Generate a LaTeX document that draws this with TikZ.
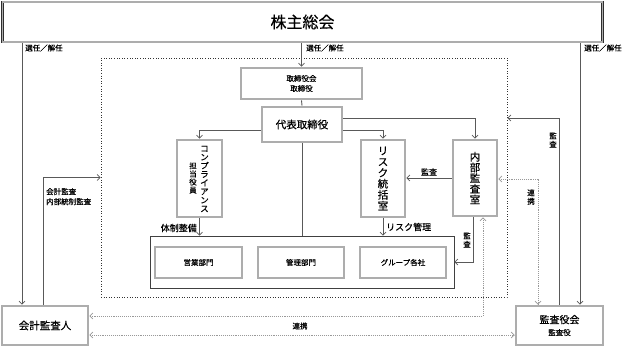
\documentclass[tikz,border=0pt]{standalone}
\usepackage{fontspec}
\setmainfont{Noto Sans CJK JP}[FakeBold=0.5]
\usetikzlibrary{arrows.meta,calc}
\begin{document}
\begin{tikzpicture}[x=1pt,y=-1pt,
  dbox/.style={draw=black!82, double=black!32, double distance=1.2pt, line width=0.7pt,
    fill=white, inner sep=0pt, outer sep=1.3pt},
  sbox/.style={draw=black!75, line width=0.9pt, inner sep=0pt, outer sep=0.45pt},
  tip/.tip={Straight Barb[length=3pt,width=6pt,line width=0.7pt]},
  conn/.style={draw=black!65, line width=0.9pt},
  arr/.style={conn, -tip},
  link/.style={draw=black!40, densely dotted, line width=0.9pt, tip-tip},
  lab/.style={inner sep=0pt, font=\fontsize{7.5}{8.5}\selectfont},
  vt/.style={inner sep=0pt, align=center}
]
\useasboundingbox (0,0) rectangle (622,347);
\fill[white] (0,0) rectangle (622,347);

% dotted frame
\node[draw=black!80, dotted, line width=0.6pt, minimum width=406pt, minimum height=239pt, inner sep=0pt] (frame) at (304,177.5) {};

% boxes
\node[dbox, minimum width=600pt, minimum height=40pt, font=\fontsize{16}{18}\selectfont] (sh) at (302.5,22) {株主総会};
\node[dbox, minimum width=121pt, minimum height=31pt, align=center, font=\fontsize{7.5}{10}\selectfont] (bd) at (301.5,83.5) {取締役会\\取締役};
\node[dbox, minimum width=80pt, minimum height=35pt, font=\fontsize{10.5}{12}\selectfont] (ceo) at (302,124.5) {代表取締役};
\node[dbox, minimum width=45pt, minimum height=77pt] (comp) at (199.5,178.5) {};
\node[vt, font=\fontsize{8.5}{8.6}\selectfont] (compa) at (204.5,179) {コ\\ン\\プ\\ラ\\イ\\ア\\ン\\ス};
\node[vt, font=\fontsize{7.5}{8.1}\selectfont] (compb) at (193,178) {担\\当\\役\\員};
\node[dbox, minimum width=44pt, minimum height=77pt, vt, font=\fontsize{10.5}{11}\selectfont] (risk) at (383,178.5) {リ\\ス\\ク\\統\\括\\室};
\node[dbox, minimum width=44pt, minimum height=76pt, vt, font=\fontsize{10.5}{10.7}\selectfont] (audit) at (475,178) {内\\部\\監\\査\\室};

\node[sbox, minimum width=304pt, minimum height=52pt] (cont) at (302,262) {};
\node[dbox, minimum width=87pt, minimum height=31pt, font=\fontsize{7.5}{9}\selectfont] (eig) at (198.5,262.5) {営業部門};
\node[dbox, minimum width=86pt, minimum height=31pt, font=\fontsize{7.5}{9}\selectfont] (kan) at (301,262.5) {管理部門};
\node[dbox, minimum width=86pt, minimum height=31pt, font=\fontsize{7.5}{9}\selectfont] (grp) at (403,262.5) {グループ各社};

\node[dbox, minimum width=86pt, minimum height=39pt, font=\fontsize{10.5}{12}\selectfont] (acc) at (45,325.5) {会計監査人};
\node[dbox, minimum width=87pt, minimum height=39pt, align=center] (kansa) at (559.5,325.5) {{\fontsize{10}{11}\selectfont 監査役会}\\{\fontsize{7.5}{9}\selectfont 監査役}};

% helper coordinates
\coordinate (xL) at (22,0);
\coordinate (xR) at (580,0);
\coordinate (xA) at (43,0);
\coordinate (xK) at (559,0);
\coordinate (xM) at (473,0);
\coordinate (xD) at (483,0);
\coordinate (xE) at (538,0);
\coordinate (yA) at (0,130);
\coordinate (yB) at (0,118);
\coordinate (yC) at (0,316);
\coordinate (yD) at (0,335);
\coordinate (yE) at (0,179);

% connectors
\draw[arr] (xL |- sh.south) -- (xL |- acc.north);
\draw[arr] (bd.north |- sh.south) -- (bd.north);
\draw[arr] (xR |- sh.south) -- (xR |- kansa.north);
\draw[conn] (bd.south) -- (ceo.north);
\draw[arr] (ceo.west |- yA) -| (comp.north);
\draw[arr] (ceo.east |- yA) -| (risk.north);
\draw[arr] (ceo.east |- yB) -| (audit.north);
\draw[conn] (ceo.south) -- (ceo.south |- cont.north);
\draw[arr] (comp.south) -- (comp.south |- cont.north);
\draw[arr] (risk.south) -- (risk.south |- cont.north);
\draw[arr] (audit.west) -- (audit.west -| risk.east);
\draw[arr] (xM |- audit.south) |- (cont.east);
\draw[arr] (xA |- acc.north) |- (frame.west);
\draw[arr] (xK |- kansa.north) |- (frame.east |- yB);
\draw[link] (audit.east |- yE) -| (xE |- kansa.north);
\draw[link] (xD |- audit.south) |- (acc.east |- yC);
\draw[link] (acc.east |- yD) -- (kansa.west |- yD);

% labels
\node[lab, anchor=west] (s1) at (25,48) {選任／解任};
\node[lab, anchor=west] (s2) at (306,48) {選任／解任};
\node[lab, anchor=west] (s3) at (584,48) {選任／解任};
\node[lab, anchor=east, font=\fontsize{9}{10}\selectfont] (l1) at (197,228) {体制整備};
\node[lab, anchor=west, font=\fontsize{9}{10}\selectfont] (l2) at (386,227) {リスク管理};
\node[lab, font=\fontsize{8}{9}\selectfont] (l3) at (429,172) {監査};
\node[lab, vt, font=\fontsize{7.5}{8.5}\selectfont] (l4) at (467,240) {監\\査};
\node[lab, align=left, anchor=north west, font=\fontsize{7.5}{10}\selectfont] (l5) at (46,188) {会計監査\\内部統制監査};
\node[lab, vt, font=\fontsize{7.5}{8.5}\selectfont] (l6) at (553,140) {監\\査};
\node[lab, vt, font=\fontsize{7.5}{8.5}\selectfont] (l7) at (531,197) {連\\携};
\node[lab] (l8) at (300,326) {連携};
\end{tikzpicture}
\end{document}
